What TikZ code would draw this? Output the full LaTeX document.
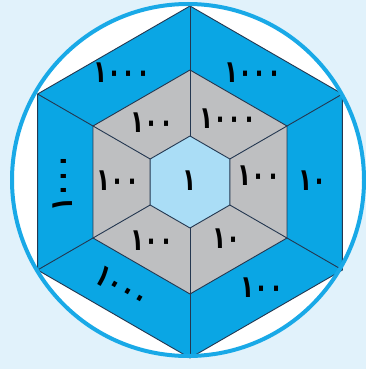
\documentclass[tikz,border=0pt]{standalone}
\usepackage{fontspec}
\newfontfamily\arabicfont[Script=Arabic]{DejaVu Sans}
\newcommand\digs[1]{\scalebox{1}[1.35]{#1}}
\definecolor{bgc}{HTML}{E1F2FB}
\definecolor{outerblue}{HTML}{0AA6E4}
\definecolor{midgray}{HTML}{BEBFC1}
\definecolor{innerblue}{HTML}{AADDF6}
\definecolor{edgec}{HTML}{243750}
\definecolor{ringc}{HTML}{19A9E7}
\begin{document}
\begin{tikzpicture}[x=1pt,y=-1pt,line join=round,
  edge/.style={draw=edgec,line width=0.9pt},
  num/.style={font=\arabicfont\bfseries\fontsize{23}{23}\selectfont,inner sep=0pt,text=black}]
\fill[bgc] (0,0) rectangle (366,369);
\useasboundingbox (0,0) rectangle (366,369);
\fill[white] (188,180) circle (176);
\begin{scope}[shift={(190,182)}]
  \fill[outerblue] (90:176) -- (30:176) -- (-30:176) -- (-90:176) -- (-150:176) -- (150:176) -- cycle;
  \fill[midgray] (90:112) -- (30:112) -- (-30:112) -- (-90:112) -- (-150:112) -- (150:112) -- cycle;
  \fill[innerblue] (90:46) -- (30:46) -- (-30:46) -- (-90:46) -- (-150:46) -- (150:46) -- cycle;
  \foreach \r in {176,112,46}
    \draw[edge] (90:\r) -- (30:\r) -- (-30:\r) -- (-90:\r) -- (-150:\r) -- (150:\r) -- cycle;
  \foreach \a in {30,90,...,330}
    \draw[edge] (\a:46) -- (\a:176);
\end{scope}
\draw[ringc,line width=4pt] (188,180) circle (176);
% outer ring labels
\node[num] (o1) at (122,73) {\digs{١٠٠٠}};
\node[num] (o2) at (253,73) {\digs{١٠٠٠}};
\node[num] (o3) at (313,181) {\digs{١٠}};
\node[num] (o4) at (262,288) {\digs{١٠٠}};
\node[num,rotate=-30] (o5) at (122,287) {\digs{١٠٠٠}};
\node[num,rotate=90] (o6) at (63,183) {\digs{١٠٠٠}};
% gray ring labels
\node[num] (g1) at (152,123) {\digs{١٠٠}};
\node[num] (g2) at (228,119) {\digs{١٠٠٠}};
\node[num] (g3) at (259,176) {\digs{١٠٠}};
\node[num] (g4) at (227,239) {\digs{١٠}};
\node[num] (g5) at (152,241) {\digs{١٠٠}};
\node[num] (g6) at (118,181) {\digs{١٠٠}};
% centre
\node[num] (c) at (190,181) {\digs{١}};
\end{tikzpicture}
\end{document}
